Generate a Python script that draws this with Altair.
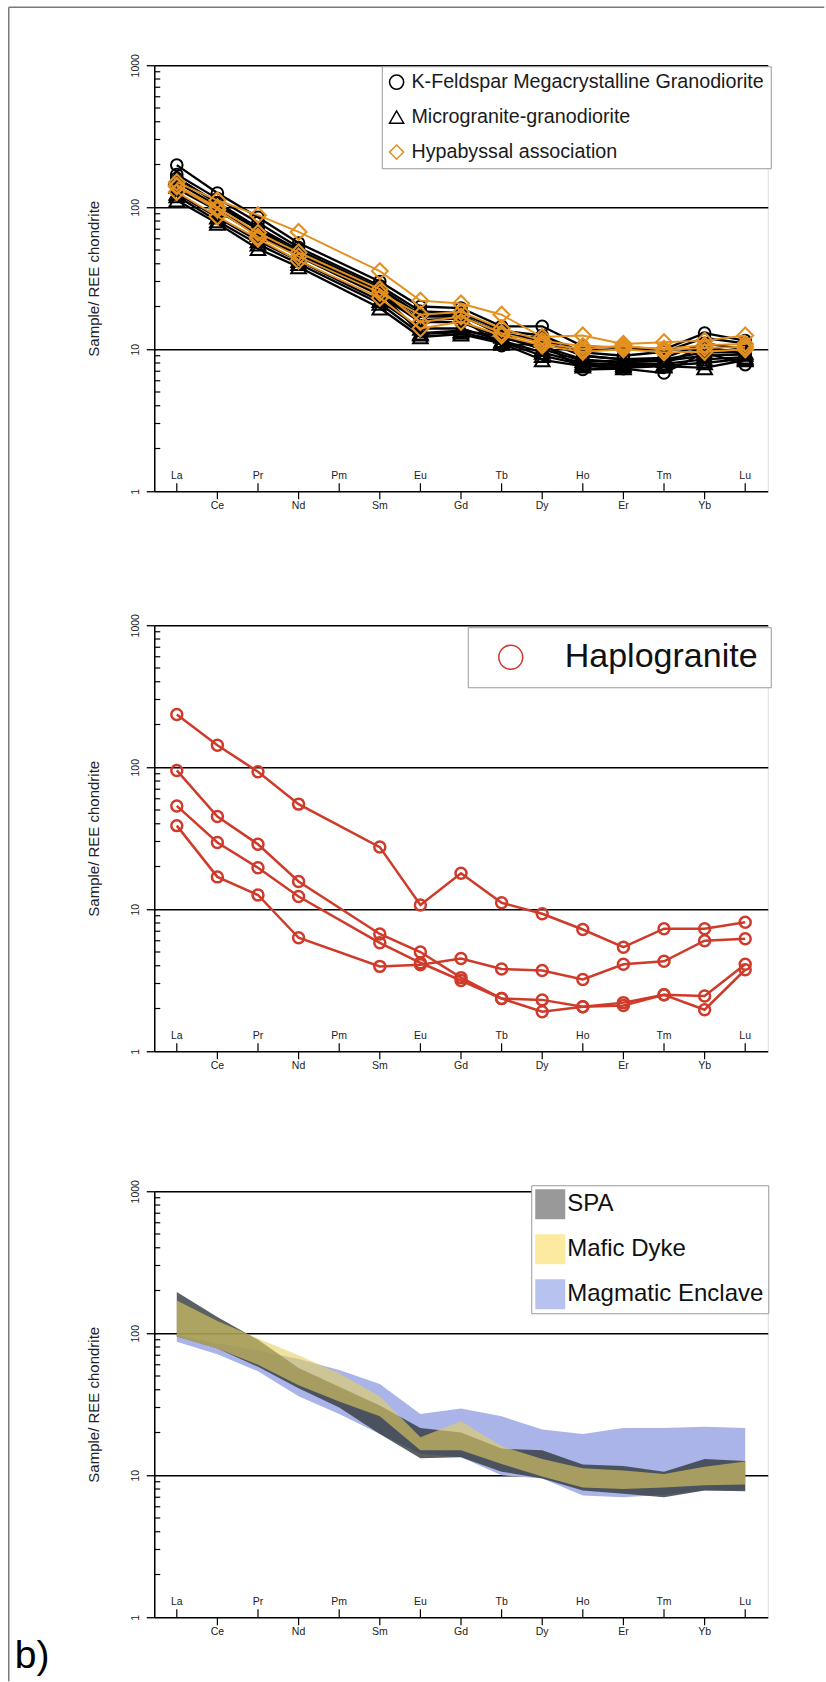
import altair as alt
import pandas as pd

# Chondrite-normalised REE patterns: three stacked spider diagrams.
ELEMENTS = ["La", "Ce", "Pr", "Nd", "Pm", "Sm", "Eu", "Gd", "Tb", "Dy", "Ho", "Er", "Tm", "Yb", "Lu"]
MEASURED = ["La", "Ce", "Pr", "Nd", "Sm", "Eu", "Gd", "Tb", "Dy", "Ho", "Er", "Tm", "Yb", "Lu"]

KFS = "K-Feldspar Megacrystalline Granodiorite"
MIC = "Microgranite-granodiorite"
HYP = "Hypabyssal association"
HAP = "Haplogranite"
SPA = "SPA"
DYKE = "Mafic Dyke"
ENCL = "Magmatic Enclave"

# sample / chondrite, in MEASURED order
kfs_samples = [
    [198, 126, 85, 56, 30, 20, 19.5, 14.5, 14.5, 10.5, 10.2, 10.0, 13.0, 11.5],
    [170, 115, 78, 52, 28, 18.5, 18, 13.5, 12.5, 9.5, 9.0, 9.6, 12.0, 11.0],
    [150, 102, 70, 47, 25, 16, 16.5, 10.6, 11, 7.2, 7.3, 6.8, 9.5, 7.8],
    [135, 95, 65, 45, 24, 15.5, 15.5, 12, 10.5, 8.5, 8.0, 7.9, 10.5, 9.2],
    [160, 108, 72, 50, 27, 17.5, 17.5, 12.5, 12, 9.0, 8.5, 8.7, 11.0, 10.0],
]
mic_samples = [
    [162, 106, 70, 48, 26, 17, 17, 13, 11.5, 9.0, 8.5, 8.5, 9.5, 9.5],
    [125, 85, 58, 42, 22, 14, 14, 11.5, 9.5, 8.0, 7.8, 7.9, 8.5, 8.8],
    [112, 77, 51, 38, 19.5, 12.2, 12.8, 11, 8.4, 7.6, 7.4, 7.6, 7.4, 8.4],
    [140, 95, 64, 46, 25, 13, 13.5, 12.3, 10, 8.3, 8.2, 8.3, 9.0, 9.2],
    [120, 80, 55, 40, 21, 12.8, 13.2, 11.3, 9.0, 7.8, 7.6, 7.7, 8.0, 8.6],
]
hyp_samples = [
    [150, 112, 88, 67, 35.5, 22, 21, 17.5, 12.2, 12.5, 10.9, 11.2, 11.5, 12.5],
    [140, 96, 62, 45, 25, 17.5, 18.3, 14, 11.5, 10.5, 10.4, 10.1, 10.7, 10.9],
    [128, 86, 60, 42, 23, 14, 15.6, 12.5, 10.6, 9.6, 10.0, 9.5, 9.6, 10.0],
    [142, 100, 66, 48, 26.5, 15.5, 17, 13, 11, 10, 10.6, 9.9, 10.2, 10.4],
]
hap_samples = [
    [235, 143, 93, 55, 27.4, 10.7, 17.9, 11.1, 9.3, 7.2, 5.4, 7.3, 7.3, 8.1],
    [95, 45, 28.7, 15.7, 6.7, 5.0, 3.3, 2.35, 2.3, 2.06, 2.2, 2.5, 2.45, 4.1],
    [53.4, 29.5, 19.6, 12.3, 5.8, 4.2, 3.15, 2.35, 1.9, 2.06, 2.1, 2.5, 1.96, 3.75],
    [38.8, 16.9, 12.6, 6.3, 3.96, 4.07, 4.5, 3.8, 3.7, 3.2, 4.1, 4.3, 6.0, 6.2],
]

# envelope fields, in ELEMENTS order (Pm included)
enclave_low = [87, 71, 54, 36, 27, 19.5, 14.2, 13.4, 10.0, 9.5, 7.2, 7.0, 7.3, 7.8, 7.8]
enclave_high = [98, 85, 76, 66, 55, 44, 27, 29.5, 26, 21, 19.5, 21.5, 21.5, 22, 21.5]
spa_low = [95, 78, 58, 41, 30, 19.5, 13.2, 13.4, 10.6, 9.5, 7.8, 7.4, 7.0, 7.8, 7.7]
spa_high = [195, 130, 90, 57, 42, 31, 21.5, 20, 15.4, 15, 11.9, 11.6, 10.6, 13, 12.6]
dyke_low = [95, 78, 60, 43, 33, 26, 15, 15, 12, 9.8, 8.2, 8.0, 8.2, 8.5, 8.6]
dyke_high = [170, 122, 92, 70, 52, 36, 18.5, 24, 16, 13, 11.2, 10.8, 10.2, 11.5, 12.5]

MINOR_TICKS = [m * d for d in (1, 10, 100) for m in range(2, 10)]

FONT = "Liberation Sans"
ORANGE = "#e3901f"
RED = "#cf3a2a"
W, H = 613.5, 426

X_SCALE = alt.Scale(domain=[-0.555, 14.555], nice=False, zero=False)
Y_SCALE = alt.Scale(type="log", domain=[1, 1000], nice=False)

idx_of = {e: i for i, e in enumerate(ELEMENTS)}
el_df = pd.DataFrame({"name": ELEMENTS, "idx": list(range(len(ELEMENTS)))})
minor_df = pd.DataFrame({"v": MINOR_TICKS})
one_row = pd.DataFrame({"a": [0]})


def long_table(groups):
    rows = []
    for group, samples in groups:
        for k, vals in enumerate(samples):
            for el, v in zip(MEASURED, vals):
                rows.append({"group": group, "sample": f"{group} {k}",
                             "idx": idx_of[el], "value": v})
    return pd.DataFrame(rows)


Y_AXIS = alt.Axis(
    values=[1, 10, 100, 1000], format="d", tickSize=8, tickWidth=1.3, tickColor="black",
    domainColor="black", domainWidth=1.5, grid=True, gridColor="black", gridWidth=1.5,
    gridOpacity=1, labelAngle=270, labelAlign="center", labelBaseline="alphabetic",
    labelPadding=8, labelFontSize=10.5, labelColor="#222", labelFont=FONT,
    title="Sample/ REE chondrite", titleFont=FONT, titleFontSize=15,
    titleFontWeight="normal", titleColor="#222", titleAngle=270, titleAlign="center",
    titleBaseline="middle", titleX=-61, titleY=H / 2,
)

X_ENC = alt.X("idx:Q", scale=X_SCALE, axis=None)


def y_enc(field):
    return alt.Y(field, scale=Y_SCALE, axis=Y_AXIS)


def frame_layers():
    minor = alt.Chart(minor_df).mark_rule(color="black", strokeWidth=1.2).encode(
        x=alt.value(0), x2=alt.value(6), y=y_enc("v:Q"))
    even = alt.Chart(el_df).transform_filter("datum.idx % 2 == 0")
    odd = alt.Chart(el_df).transform_filter("datum.idx % 2 == 1")
    even_ticks = even.mark_rule(color="black", strokeWidth=1.2).encode(
        x=X_ENC, y=alt.value(H), y2=alt.value(H - 8))
    odd_ticks = odd.mark_rule(color="black", strokeWidth=1.2).encode(
        x=X_ENC, y=alt.value(H), y2=alt.value(H + 8))
    even_labels = even.mark_text(font=FONT, fontSize=10.5, color="#222", baseline="middle").encode(
        x=X_ENC, y=alt.value(H - 15), text="name:N")
    odd_labels = odd.mark_text(font=FONT, fontSize=10.5, color="#222", baseline="middle").encode(
        x=X_ENC, y=alt.value(H + 15), text="name:N")
    return [minor, even_ticks, odd_ticks, even_labels, odd_labels]


# ---------- panel 1: granitoids ----------
df1 = long_table([(KFS, kfs_samples), (MIC, mic_samples), (HYP, hyp_samples)])
COL1 = alt.Scale(domain=[KFS, MIC, HYP], range=["black", "black", ORANGE])
SHP1 = alt.Scale(domain=[KFS, MIC, HYP], range=["circle", "triangle-up", "diamond"])
LEG1 = alt.Legend(
    title=None, orient="none", legendX=227.5, legendY=1, padding=6, symbolOffset=-1,
    labelOffset=5, rowPadding=14, labelFontSize=19.7, labelFont=FONT, labelColor="#1a1a1a",
    labelLimit=0, labelExpr="datum.label + '\u00a0'", symbolSize=200,
    symbolStrokeWidth=1.5, strokeColor="#9a9a9a", fillColor="white", cornerRadius=0,
)


def group_lines(df, group, color, width):
    return alt.Chart(df).transform_filter(alt.datum.group == group).mark_line(
        color=color, strokeWidth=width).encode(
        x=X_ENC, y=y_enc("value:Q"), detail="sample:N")


def group_points(df, group, size, width, cscale, sscale, legend):
    return alt.Chart(df).transform_filter(alt.datum.group == group).mark_point(
        filled=False, size=size, strokeWidth=width, opacity=1).encode(
        x=X_ENC, y=y_enc("value:Q"),
        color=alt.Color("group:N", scale=cscale, legend=legend),
        shape=alt.Shape("group:N", scale=sscale, legend=legend))


border_top = alt.Chart(one_row).mark_rule(color="#7a7a7a", strokeWidth=1.5).encode(
    x=alt.value(-145.5), x2=alt.value(670), y=alt.value(-58))
border_left = alt.Chart(one_row).mark_rule(color="#7a7a7a", strokeWidth=1.5).encode(
    x=alt.value(-145.5), y=alt.value(-58), y2=alt.value(1616))

panel1 = alt.layer(
    border_top, border_left,
    *frame_layers(),
    group_lines(df1, KFS, "black", 2.3),
    group_lines(df1, MIC, "black", 2.3),
    group_points(df1, KFS, 135, 2, COL1, SHP1, LEG1),
    group_points(df1, MIC, 215, 2, COL1, SHP1, LEG1),
    group_lines(df1, HYP, ORANGE, 1.9),
    group_points(df1, HYP, 250, 2.1, COL1, SHP1, LEG1),
).properties(width=W, height=H)

# ---------- panel 2: haplogranite ----------
df2 = long_table([(HAP, hap_samples)])
COL2 = alt.Scale(domain=[HAP], range=[RED])
SHP2 = alt.Scale(domain=[HAP], range=["circle"])
LEG2 = alt.Legend(
    title=None, orient="none", legendX=313.5, legendY=2, padding=13, symbolOffset=13,
    labelOffset=37, labelFontSize=34, labelFont=FONT, labelColor="#111", labelLimit=0,
    symbolSize=570, symbolStrokeWidth=1.5, strokeColor="#9a9a9a", fillColor="white",
    cornerRadius=0,
)
panel2 = alt.layer(
    *frame_layers(),
    group_lines(df2, HAP, RED, 2.5),
    group_points(df2, HAP, 120, 2.5, COL2, SHP2, LEG2),
).properties(width=W, height=H)

# ---------- panel 3: envelopes ----------
band_rows = []
for group, lows, highs in [(ENCL, enclave_low, enclave_high), (SPA, spa_low, spa_high),
                           (DYKE, dyke_low, dyke_high)]:
    for el, lo, hi in zip(ELEMENTS, lows, highs):
        band_rows.append({"group": group, "idx": idx_of[el], "low": lo, "high": hi})
band_df = pd.DataFrame(band_rows)


def band(group, color, opacity):
    return alt.Chart(band_df).transform_filter(alt.datum.group == group).mark_area(
        color=color, opacity=opacity).encode(
        x=X_ENC, y=y_enc("low:Q"), y2="high:Q")


SWATCH = alt.Scale(domain=[SPA, DYKE, ENCL], range=["#999999", "#fbeaa0", "#b8c2ee"])
LEG3 = alt.Legend(
    title=None, orient="none", legendX=377, legendY=-6, padding=4, symbolOffset=0,
    labelOffset=2, rowPadding=15, labelFontSize=24, labelFont=FONT, labelColor="#111",
    labelLimit=0, symbolSize=900, symbolType="square",
    symbolOpacity=1, symbolStrokeWidth=0, strokeColor="#9a9a9a", fillColor="white",
    cornerRadius=0,
)
swatches = alt.Chart(band_df).transform_filter("datum.idx == 0").mark_square(opacity=0).encode(
    x=X_ENC, y=y_enc("low:Q"),
    fill=alt.Fill("group:N", scale=SWATCH, legend=LEG3))

panel_tag = alt.Chart(one_row).mark_text(
    text="b)", font=FONT, fontSize=39, align="left", baseline="alphabetic", color="black"
).encode(x=alt.value(14 - 153.5), y=alt.value(1667 - 1190))

panel3 = alt.layer(
    band(ENCL, "#aab4e8", 1.0),
    band(SPA, "#323a3c", 0.8),
    band(DYKE, "#e6d060", 0.6),
    swatches,
    *frame_layers(),
    panel_tag,
).properties(width=W, height=H)

INDEP = dict(color="independent", shape="independent", fill="independent")

lower = alt.vconcat(panel2, panel3, spacing=140, bounds="flush") \
    .resolve_scale(**INDEP).resolve_legend(**INDEP)
chart = alt.vconcat(panel1, lower, spacing=134, bounds="flush") \
    .resolve_scale(**INDEP).resolve_legend(**INDEP) \
    .properties(padding={"left": 7.25, "top": 5.25, "right": 0, "bottom": 0}) \
    .configure_view(stroke="black", strokeWidth=1.5) \
    .configure(font=FONT, background="white")

chart.save("out.html", embed_options={"renderer": "svg", "actions": False})
